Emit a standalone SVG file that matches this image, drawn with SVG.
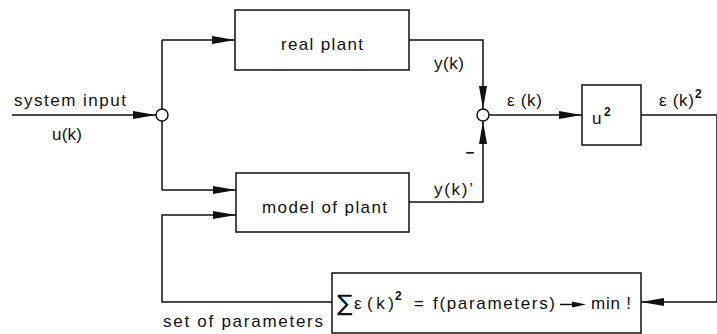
<svg xmlns="http://www.w3.org/2000/svg" width="717" height="334" viewBox="0 0 717 334">
<style>
.box{fill:#fff;stroke:#111;stroke-width:1.5}
.ln{fill:none;stroke:#111;stroke-width:1.5}
.ar{fill:none;stroke:#111;stroke-width:1.5;marker-end:url(#ah)}
.t{font-family:"Liberation Sans","DejaVu Sans",sans-serif;font-size:17px;fill:#111}
.sup{font-family:"Liberation Sans","DejaVu Sans",sans-serif;font-size:12px;font-weight:bold;fill:#111}
</style>
<defs>
<marker id="ah" viewBox="0 0 23 8" refX="23" refY="4" markerWidth="23" markerHeight="8" markerUnits="userSpaceOnUse" orient="auto">
<path d="M0,0 L23,4 L0,8 Z" fill="#111"/>
</marker>
</defs>
<rect width="717" height="334" fill="#fff"/>
<g id="connectors">
<path class="ar" d="M12,115 L156,115"/>
<path class="ln" d="M162,121 L162,190"/>
<path class="ln" d="M162,109 L162,40"/>
<path class="ar" d="M162,40 L235,40"/>
<path class="ar" d="M162,190 L236,190"/>
<path class="ar" d="M409,40 L483,40 L483,109"/>
<path class="ar" d="M409,202 L483,202 L483,121"/>
<path class="ar" d="M489,115 L582,115"/>
<path class="ln" d="M641,115 L717,115 L717,302"/>
<path class="ar" d="M717,302 L641,302"/>
<path class="ar" d="M332,302 L162,302 L162,215 L236,215"/>
</g>
<g id="junction-input"><circle cx="162" cy="115" r="6" class="box"/></g>
<g id="junction-sum"><circle cx="483" cy="115" r="6" class="box"/></g>
<g id="real-plant">
<rect x="235" y="10" width="174" height="60" class="box"/>
<text class="t" x="281" y="50" textLength="82" lengthAdjust="spacing">real plant</text>
</g>
<g id="model-plant">
<rect x="236" y="173" width="173" height="59" class="box"/>
<text class="t" x="262" y="213" textLength="125" lengthAdjust="spacing">model of plant</text>
</g>
<g id="square">
<rect x="582" y="85" width="59" height="60" class="box"/>
<text class="t" x="592" y="124">u</text>
<text class="sup" x="604" y="116">2</text>
</g>
<g id="criterion">
<rect x="332" y="273" width="309" height="60" class="box"/>
<text x="337" y="311" style="font-family:'DejaVu Sans',sans-serif;font-size:23px;fill:#111">∑</text>
<text class="t" x="354" y="309" font-size="19">ε</text>
<text class="t" x="367" y="309" font-size="18" textLength="27" lengthAdjust="spacing">(k)</text>
<text class="sup" x="395" y="300">2</text>
<text class="t" x="414" y="309">=</text>
<text class="t" x="433" y="309" textLength="122" lengthAdjust="spacing">f(parameters)</text>
<text class="t" x="591" y="309" textLength="40" lengthAdjust="spacing">min !</text>
</g>
<g id="crit-arrow">
<path d="M560,304.5 L575,304.5" class="ln" stroke-width="1.2"/>
<path d="M572,301.5 L586,304.5 L572,307.5 Z" fill="#111"/>
</g>
<g id="labels">
<text class="t" x="14" y="106" textLength="112" lengthAdjust="spacing">system input</text>
<text class="t" x="52" y="140" textLength="30" lengthAdjust="spacing">u(k)</text>
<text class="t" x="434" y="69" textLength="30" lengthAdjust="spacing">y(k)</text>
<text class="t" x="434" y="195" textLength="39" lengthAdjust="spacing">y(k)’</text>
<text class="t" x="507" y="106" textLength="35" lengthAdjust="spacing">ε (k)</text>
<text class="t" x="659" y="106" textLength="35" lengthAdjust="spacing">ε (k)</text>
<text class="sup" x="695" y="98">2</text>
<text x="465" y="159" style="font-family:'DejaVu Sans',sans-serif;font-size:20px;fill:#111" textLength="10" lengthAdjust="spacingAndGlyphs">−</text>
<text class="t" x="163" y="327" textLength="160" lengthAdjust="spacing">set of parameters</text>
</g>
</svg>
